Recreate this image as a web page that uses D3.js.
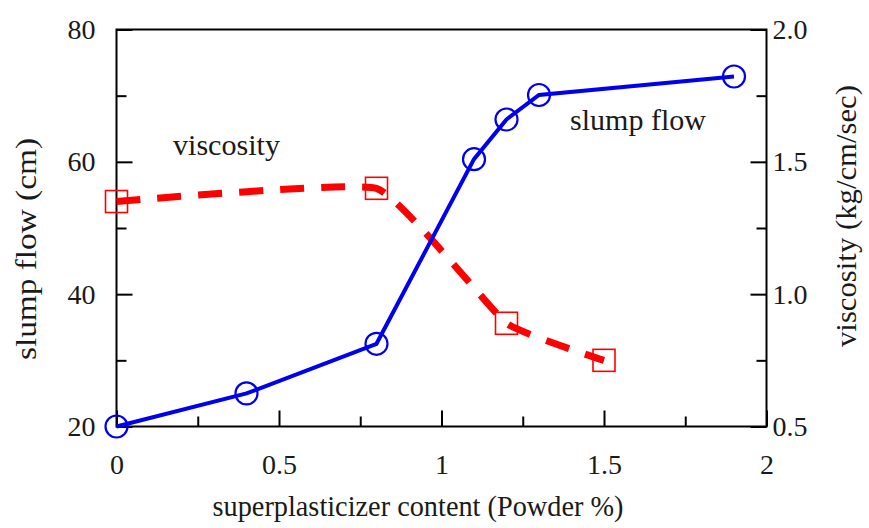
<!DOCTYPE html>
<html><head><meta charset="utf-8">
<script src="https://cdn.jsdelivr.net/npm/d3@7"></script>
<style>body{margin:0;background:#fff}svg{display:block}</style>
</head><body>
<svg id="c" width="869" height="528"></svg>
<script>
const slumpX = [0, 0.4, 0.8, 1.1, 1.2, 1.3, 1.9];
const slumpY = [20, 25, 32.5, 60.4, 66.4, 70.1, 72.9];
const viscX = [0, 0.8, 1.2, 1.5];
const viscY = [1.35, 1.40, 0.89, 0.75];
const xTicks = [0, 0.5, 1, 1.5, 2];
const xTickLabels = ["0", "0.5", "1", "1.5", "2"];
const xMinor = [0.25, 0.75, 1.25, 1.75];
const yLeftTicks = [20, 40, 60, 80];
const yLeftMinor = [30, 50, 70];
const yRightTicks = [0.5, 1.0, 1.5, 2.0];
const yRightLabels = ["0.5", "1.0", "1.5", "2.0"];
const yRightMinor = [0.75, 1.25, 1.75];

const svg = d3.select("#c");
const L = 116.5, R = 766.5, T = 29.5, B = 426.5;
const x = d3.scaleLinear().domain([0, 2]).range([L, R]);
const yL = d3.scaleLinear().domain([20, 80]).range([B, T]);
const yR = d3.scaleLinear().domain([0.5, 2.0]).range([B, T]);
const font = "'Liberation Serif', 'Times New Roman', serif";
const txt = "#1a1a1a";

// frame
svg.append("rect").attr("x", L).attr("y", T).attr("width", R - L).attr("height", B - T)
  .attr("fill", "none").attr("stroke", "#000").attr("stroke-width", 2);

// bottom axis (ticks inward)
const xAx = svg.append("g").attr("transform", `translate(0,${B})`);
xAx.call(d3.axisBottom(x).tickValues(xTicks).tickSize(-16).tickFormat((d, i) => xTickLabels[i]).tickPadding(28));
const xAx2 = svg.append("g").attr("transform", `translate(0,${B})`);
xAx2.call(d3.axisBottom(x).tickValues(xMinor).tickSize(-10).tickFormat(""));

// left axis
const yAx = svg.append("g").attr("transform", `translate(${L},0)`);
yAx.call(d3.axisLeft(yL).tickValues(yLeftTicks).tickSize(-16).tickPadding(21));
const yAx2 = svg.append("g").attr("transform", `translate(${L},0)`);
yAx2.call(d3.axisLeft(yL).tickValues(yLeftMinor).tickSize(-10).tickFormat(""));

// right axis
const rAx = svg.append("g").attr("transform", `translate(${R},0)`);
rAx.call(d3.axisRight(yR).tickValues(yRightTicks).tickSize(-16).tickFormat((d, i) => yRightLabels[i]).tickPadding(6));
const rAx2 = svg.append("g").attr("transform", `translate(${R},0)`);
rAx2.call(d3.axisRight(yR).tickValues(yRightMinor).tickSize(-10).tickFormat(""));

svg.selectAll(".domain").remove();
svg.selectAll(".tick line").attr("stroke", "#000").attr("stroke-width", 2);
svg.selectAll(".tick text").attr("font-family", font).attr("font-size", 28).attr("fill", txt);

// viscosity line
const vdata = viscX.map((d, i) => [d, viscY[i]]);
svg.append("path").datum(vdata)
  .attr("d", d3.line().x(d => x(d[0])).y(d => yR(d[1])).curve(d3.curveCardinal.tension(0.65)))
  .attr("fill", "none").attr("stroke", "#ff0000").attr("stroke-width", 7)
  .attr("stroke-dasharray", "24,17");
svg.selectAll(".vsq").data(vdata).enter().append("rect")
  .attr("x", d => x(d[0]) - 11).attr("y", d => yR(d[1]) - 11)
  .attr("width", 22).attr("height", 22)
  .attr("fill", "none").attr("stroke", "#ff0000").attr("stroke-width", 1.6);

// slump line
const sdata = slumpX.map((d, i) => [d, slumpY[i]]);
svg.append("path").datum(sdata)
  .attr("d", d3.line().x(d => x(d[0])).y(d => yL(d[1])))
  .attr("fill", "none").attr("stroke", "#0000ee").attr("stroke-width", 4);
svg.selectAll(".sc").data(sdata).enter().append("circle")
  .attr("cx", d => x(d[0])).attr("cy", d => yL(d[1])).attr("r", 11)
  .attr("fill", "none").attr("stroke", "#0000ee").attr("stroke-width", 2.2);

// annotations
svg.append("text").attr("x", 173).attr("y", 155).text("viscosity")
  .attr("font-family", font).attr("font-size", 30).attr("fill", txt)
  .attr("textLength", 107).attr("lengthAdjust", "spacingAndGlyphs");
svg.append("text").attr("x", 570).attr("y", 130).text("slump flow")
  .attr("font-family", font).attr("font-size", 30).attr("fill", txt)
  .attr("textLength", 136).attr("lengthAdjust", "spacingAndGlyphs");

// axis titles
svg.append("text").attr("x", 418).attr("y", 516).attr("text-anchor", "middle")
  .text("superplasticizer content (Powder %)")
  .attr("font-family", font).attr("font-size", 29).attr("fill", txt)
  .attr("textLength", 411).attr("lengthAdjust", "spacingAndGlyphs");
svg.append("text").attr("transform", "translate(36,249) rotate(-90)").attr("text-anchor", "middle")
  .text("slump flow (cm)")
  .attr("font-family", font).attr("font-size", 29).attr("fill", txt)
  .attr("textLength", 222).attr("lengthAdjust", "spacingAndGlyphs");
svg.append("text").attr("transform", "translate(856,216) rotate(-90)").attr("text-anchor", "middle")
  .text("viscosity (kg/cm/sec)")
  .attr("font-family", font).attr("font-size", 29).attr("fill", txt)
  .attr("textLength", 262).attr("lengthAdjust", "spacingAndGlyphs");
</script>
</body></html>
